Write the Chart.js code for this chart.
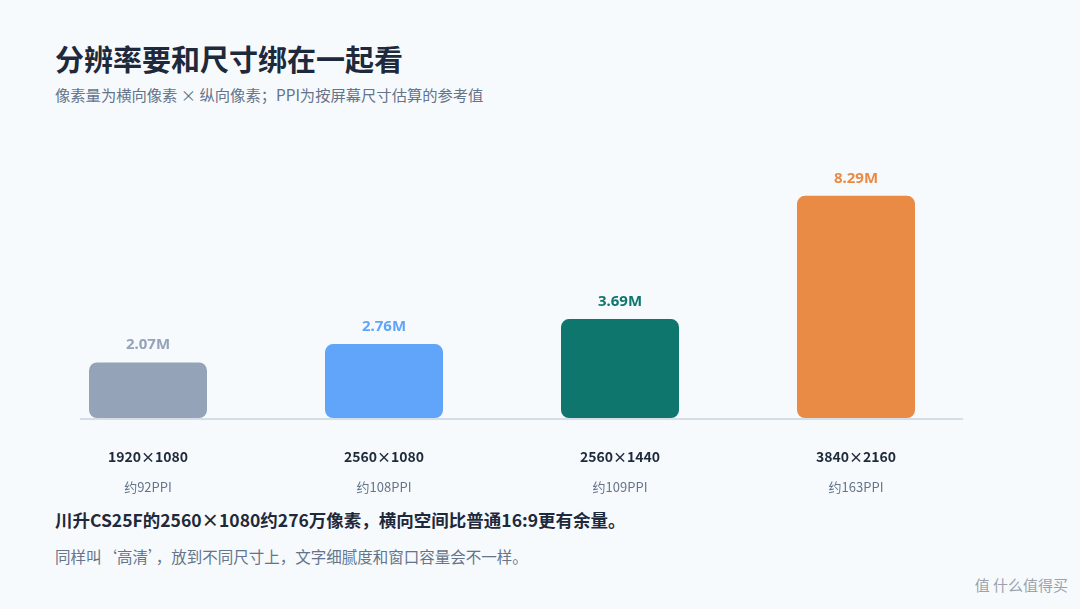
<!DOCTYPE html>
<html><head><meta charset="utf-8">
<script src="https://cdn.jsdelivr.net/npm/chart.js@4"></script>
<style>
body{margin:0;width:1080px;height:609px;background:#f7fafc;font-family:"Noto Sans CJK SC","Noto Sans",sans-serif;position:relative;overflow:hidden}
#t{position:absolute;left:55px;top:37px;font-size:29px;font-weight:700;color:#1e293b}
#s{position:absolute;left:55px;top:83px;font-size:15.3px;color:#64748b}
#n1{position:absolute;left:55px;top:507px;font-size:17.5px;font-weight:700;color:#1e293b}
#n2{position:absolute;left:55px;top:545px;font-size:15.5px;color:#64748b}
#w{position:absolute;right:12px;bottom:14px;font-size:15px;color:#9aa3ad}
canvas{position:absolute;left:0;top:0}
</style></head><body>
<div id="t">分辨率要和尺寸绑在一起看</div>
<div id="s">像素量为横向像素 × 纵向像素；PPI为按屏幕尺寸估算的参考值</div>
<div id="n1">川升CS25F的2560×1080约276万像素，横向空间比普通16:9更有余量。</div>
<div id="n2">同样叫‘高清’，放到不同尺寸上，文字细腻度和窗口容量会不一样。</div>
<div id="w">值 什么值得买</div>
<div style="position:absolute;left:0;top:0;width:1080px;height:609px"><canvas id="c"></canvas></div>
<script>
const resolutions = ['1920×1080','2560×1080','2560×1440','3840×2160'];
const ppiLabels = ['约92PPI','约108PPI','约109PPI','约163PPI'];
const megapixels = [2.07, 2.76, 3.69, 8.29];
const barColors = ['#94a3b8','#60a5fa','#0f766e','#e98a45'];
const labelColors = ['#94a3b8','#60a5fa','#0f766e','#e98a45'];

const labelsPlugin = {
  id: 'labels',
  beforeDatasetsDraw(chart) {
    const ctx = chart.ctx, area = chart.chartArea;
    ctx.save();
    ctx.strokeStyle = '#d5dde6'; ctx.lineWidth = 2;
    ctx.beginPath(); ctx.moveTo(80, area.bottom + 1); ctx.lineTo(963, area.bottom + 1); ctx.stroke();
    ctx.restore();
  },
  afterDatasetsDraw(chart) {
    const ctx = chart.ctx;
    ctx.save();
    ctx.textAlign = 'center';
    chart.getDatasetMeta(0).data.forEach((bar, i) => {
      ctx.fillStyle = labelColors[i];
      ctx.font = '700 15px "Noto Sans", sans-serif';
      ctx.textBaseline = 'bottom';
      ctx.fillText(megapixels[i].toFixed(2) + 'M', bar.x, bar.y - 10);
      ctx.textBaseline = 'middle';
      ctx.fillStyle = '#1e293b';
      ctx.font = '700 14px "Noto Sans CJK SC", sans-serif';
      ctx.fillText(resolutions[i], bar.x, 457);
      ctx.fillStyle = '#64748b';
      ctx.font = '13px "Noto Sans CJK SC", sans-serif';
      ctx.fillText(ppiLabels[i], bar.x, 487);
    });
    ctx.restore();
  }
};

new Chart(document.getElementById('c'), {
  type: 'bar',
  data: { labels: resolutions, datasets: [{ data: megapixels, backgroundColor: barColors, borderRadius: 8, borderSkipped: false, barPercentage: 0.5, categoryPercentage: 1 }] },
  options: {
    responsive: true, maintainAspectRatio: false, animation: false,
    layout: { padding: { left: 30, right: 106, top: 150, bottom: 191 } },
    plugins: { legend: { display: false }, tooltip: { enabled: false } },
    scales: { x: { display: false }, y: { display: false, min: 0, max: 10 } }
  },
  plugins: [labelsPlugin]
});
</script>
</body></html>
